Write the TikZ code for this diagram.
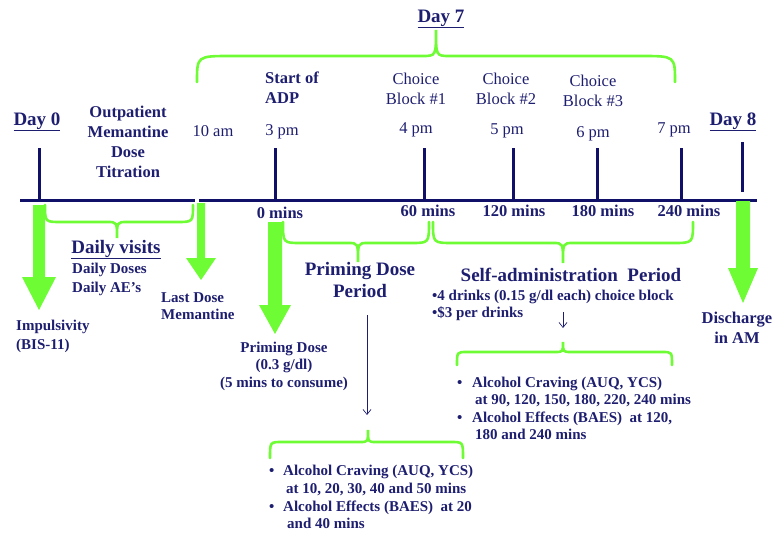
\documentclass[tikz,border=0pt]{standalone}
\usepackage{fontspec}
\setmainfont{Liberation Serif}
\usetikzlibrary{positioning,arrows.meta}

\begin{document}
\begin{tikzpicture}[x=1pt,y=-1pt,
  every node/.style={inner sep=0pt, anchor=base},
  small/.style={ink, font=\fontsize{15}{18}\selectfont\bfseries},
  mid/.style={ink, font=\fontsize{16.5}{20}\selectfont\bfseries},
  big/.style={ink, font=\fontsize{19}{22}\selectfont\bfseries},
  plain/.style={ink, font=\fontsize{16.5}{19.5}\selectfont},
  brace/.style={leaf, line width=2.6pt, line cap=round},
  bar/.style={axis, line width=3pt},
  pointer/.style={ink, line width=0.7pt, -{Straight Barb[length=5pt,width=8pt]}}]
  \definecolor{ink}{RGB}{30,30,112}
  \definecolor{axis}{RGB}{16,16,104}
  \definecolor{leaf}{RGB}{110,252,52}

  \useasboundingbox (0,0) rectangle (777,538);

  \draw[bar] (20,200) -- (195,200);
  \draw[bar] (199,200) -- (757,200);
  \foreach \x/\top/\bot in {39/148/200, 275/148/200, 424/148/200, 513/148/200,
                            597/148/200, 681/148/200, 742/142/192} {
    \draw[bar] (\x,\top) -- (\x,\bot);
  }

  \foreach \x/\s/\a/\b/\h/\c in {
    39/6/205/277/17/310,
    201/4/203/258/15/280,
    275/7/222/305/16/334,
    743/7/201/268/15/303
  } {
    \fill[leaf] (\x-\s,\a) -- (\x+\s,\a) -- (\x+\s,\b) -- (\x+\h,\b) -- (\x,\c)
      -- (\x-\h,\b) -- (\x-\s,\b) -- cycle;
  }

  \foreach \xa/\xb/\xm/\ya/\yb/\yt/\r/\k in {
    197/675/436/82/56/30/34/14,
    45/193/117/205/222/238/16/10,
    283/429/358/222/243/262/18/10,
    433/693/563/222/243/263/20/10,
    457/672/563/365/352/342/10/8,
    270/463/368/458/442/430/12/8
  } {
    \draw[brace] (\xa,\ya) .. controls (\xa,\yb) .. (\xa+\r,\yb) -- (\xm-\k,\yb)
      .. controls (\xm,\yb) .. (\xm,\yt) .. controls (\xm,\yb) .. (\xm+\k,\yb)
      -- (\xb-\r,\yb) .. controls (\xb,\yb) .. (\xb,\ya);
  }

  \node[big] (day0) at (37,125) {\underline{Day 0}};
  \node[big] (day7) at (441,22) {\underline{Day 7}};
  \node[big] (day8) at (733,125) {\underline{Day 8}};
  \node[mid, align=center] (titr) at (128,177) {Outpatient\\Memantine\\Dose\\Titration};
  \node[mid, align=left, anchor=base west] (start) at (265,103) {Start of\\ADP};

  \foreach \name/\x/\y/\txt in {cb1/416/104/Block \#1, cb2/506/104/Block \#2, cb3/593/106/Block \#3} {
    \node[plain, align=center] (\name) at (\x,\y) {Choice\\\txt};
  }
  \foreach \name/\x/\y/\txt in {t10/213/136/10 am, t3/282/135/3 pm, t4/416/133/4 pm,
                                 t5/507/134/5 pm, t6/593/137/6 pm, t7/674/133/7 pm} {
    \node[plain] (\name) at (\x,\y) {\txt};
  }
  \foreach \name/\x/\y/\txt in {m0/280/218/0, m60/428/216/60, m120/514/216/120,
                                 m180/603/216/180, m240/689/216/240} {
    \node[mid] (\name) at (\x,\y) {\txt{} mins};
  }

  \node[big] (visits) at (116,253) {\underline{Daily visits}};
  \node[small, align=left, anchor=base west, font=\fontsize{15}{19}\selectfont\bfseries]
    (doses) at (72,292) {Daily Doses\\Daily AE's};
  \node[small, align=left, anchor=base west, font=\fontsize{15}{19}\selectfont\bfseries]
    (impuls) at (16,349) {Impulsivity\\(BIS-11)};
  \node[small, align=left, anchor=base west, font=\fontsize{15}{17}\selectfont\bfseries]
    (lastdose) at (161,319) {Last Dose\\Memantine};
  \node[small, align=center, font=\fontsize{15}{17.5}\selectfont\bfseries]
    (primdose) at (284,387) {Priming Dose\\(0.3 g/dl)\\(5 mins to consume)};
  \node[big, align=center] (primper) at (360,297) {Priming Dose\\Period};
  \node[big] (selfper) at (571,281) {Self-administration\ \ Period};
  \node[small, align=left, anchor=base west, font=\fontsize{15}{17}\selectfont\bfseries]
    (drinks) at (432,317) {\textbullet4 drinks (0.15 g/dl each) choice block\\\textbullet\$3 per drinks};
  \node[mid, align=center] (disch) at (737,343) {Discharge\\in AM};

  \node[small, align=left, anchor=base west, font=\fontsize{15}{17}\selectfont\bfseries]
    (selfcrav) at (457,404)
    {\makebox[15pt][l]{\textbullet}Alcohol Craving (AUQ, YCS)\\\hspace{18pt}at 90, 120, 150, 180, 220, 240 mins};
  \node[small, align=left, anchor=base west, font=\fontsize{15}{17}\selectfont\bfseries]
    (selfeff) at (457,439)
    {\makebox[15pt][l]{\textbullet}Alcohol Effects (BAES)\ \ at 120,\\\hspace{18pt}180 and 240 mins};
  \node[small, align=left, anchor=base west, font=\fontsize{15}{18}\selectfont\bfseries]
    (primcrav) at (269,493)
    {\makebox[14pt][l]{\textbullet}Alcohol Craving (AUQ, YCS)\\\hspace{17pt}at 10, 20, 30, 40 and 50 mins};
  \node[small, align=left, anchor=base west, font=\fontsize{15}{17}\selectfont\bfseries]
    (primeff) at (269,528)
    {\makebox[14pt][l]{\textbullet}Alcohol Effects (BAES)\ \ at 20\\\hspace{18pt}and 40 mins};

  \coordinate (primfrom) at (367,315);
  \coordinate (primto) at (367,415);
  \draw[pointer] (primfrom) -- (primto);
  \coordinate (selffrom) at (563,312);
  \coordinate (selfto) at (563,328);
  \draw[pointer] (selffrom) -- (selfto);
\end{tikzpicture}
\end{document}
